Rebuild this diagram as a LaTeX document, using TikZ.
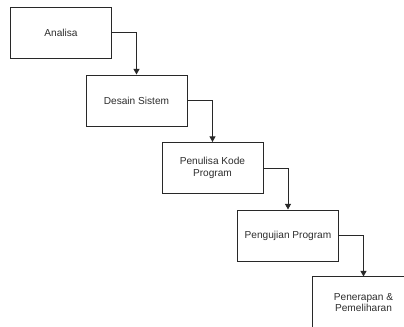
\documentclass[tikz,border=0pt]{standalone}
\usepackage{fontspec}
\setmainfont{Liberation Sans}
\usetikzlibrary{arrows.meta}
\definecolor{GarisAbu}{RGB}{40,40,40}
\definecolor{TeksAbu}{RGB}{45,45,45}

\begin{document}
\begin{tikzpicture}[x=0.025cm, y=-0.025cm,
    tahap/.style={draw=GarisAbu, line width=0.65pt, fill=white, minimum width=2.525cm, minimum height=1.275cm,
        align=center, text=TeksAbu, font=\fontsize{7.2}{8.2}\selectfont},
    alur/.style={-{Triangle[length=4pt,width=4.2pt]}, line width=0.65pt, GarisAbu}]
    \useasboundingbox (0,0) rectangle (404,327);
    \fill[white] (0,0) rectangle (404,327);
    \clip (0,0) rectangle (404,327);

    \node[tahap] (analisa) at (61,32.5) {Analisa};
    \node[tahap] (desain) at (136.5,100.5) {Desain Sistem};
    \node[tahap] (kode) at (212.5,168) {Penulisa Kode\\Program};
    \node[tahap] (uji) at (288,235.5) {Pengujian Program};
    % kotak terakhir terpotong di tepi gambar
    \node[tahap, draw=none] (terap) at (363.5,302.5) {Penerapan \&\\Pemeliharan};
    \draw[GarisAbu, line width=0.65pt] (terap.south west) |- (terap.north east);

    \draw[alur] (analisa.east) -| (desain.north);
    \draw[alur] (desain.east) -| (kode.north);
    \draw[alur] (kode.east) -| (uji.north);
    \draw[alur] (uji.east) -| (terap.north);
\end{tikzpicture}
\end{document}
